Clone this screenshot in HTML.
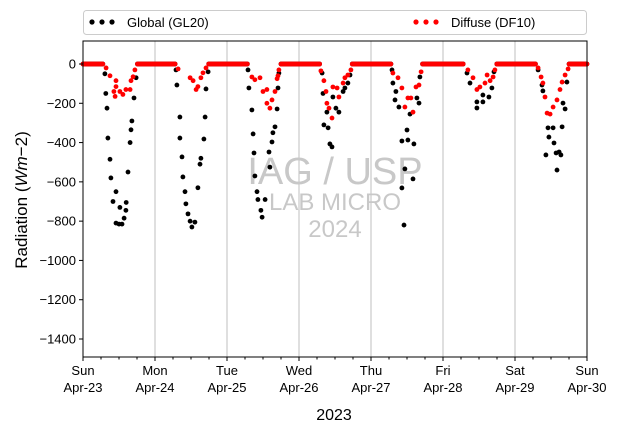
<!DOCTYPE html>
<html><head><meta charset="utf-8"><style>
html,body{margin:0;padding:0;background:#fff;}
svg{display:block;font-family:"Liberation Sans","DejaVu Sans",sans-serif;}
</style></head><body>
<svg id="chart" width="620" height="434" viewBox="0 0 620 434">
<g id="grid"></g>
<g fill="#c8c8c8" text-anchor="middle">
<text x="335" y="184" font-size="38">IAG / USP</text>
<text x="335" y="210" font-size="24">LAB MICRO</text>
<text x="335" y="237" font-size="24">2024</text>
</g>
<g id="marks"></g>
<rect x="83" y="41" width="504" height="316" fill="none" stroke="#000" stroke-width="1"/>
<g id="axes"></g>
<text x="334" y="420" font-size="16" text-anchor="middle">2023</text>
<text transform="translate(27,200) rotate(-90)" font-size="17" text-anchor="middle">Radiation (<tspan font-style="italic">Wm</tspan>−2)</text>
<g>
<rect x="83.5" y="10.5" width="503" height="24" rx="3" fill="#fff" stroke="#ccc"/>
<g>
<circle cx="92" cy="22" r="2.6" fill="#000"/><circle cx="102" cy="22" r="2.6" fill="#000"/><circle cx="112" cy="22" r="2.6" fill="#000"/>
<text x="127" y="27" font-size="13">Global (GL20)</text></g>
<g>
<circle cx="416" cy="22" r="2.6" fill="#f00"/><circle cx="426" cy="22" r="2.6" fill="#f00"/><circle cx="436" cy="22" r="2.6" fill="#f00"/>
<text x="451" y="27" font-size="13">Diffuse (DF10)</text></g>
</g>
</svg>
<script>
const dayLabels=["Sun","Mon","Tue","Wed","Thu","Fri","Sat","Sun"];
const dateLabels=["Apr-23","Apr-24","Apr-25","Apr-26","Apr-27","Apr-28","Apr-29","Apr-30"];
const yTicks=[0,-200,-400,-600,-800,-1000,-1200,-1400];
const sunrise=[6.9,30.9,54.9,78.9,102.9,126.9,150.9];
const sunset=[17.9,41.9,65.7,89.6,113,137.7,161.9];
const globalT=[7.3,7.6,8,8.3,9,9.3,10,11,11,12,13,12.3,13.7,14.3,14.4,15,15.7,16,16.3,17,17.7,
31,31.3,32.3,32.3,33,33.3,34,34.3,35,35.7,36.3,37.3,38.3,39,39.3,40.3,40.7,41,41.7,
55,55.3,56.3,56.7,57,57.3,58,58.3,60.7,59.3,59.7,62.3,62,63,63.3,64,64.7,65,65.3,
79.7,80,80.3,81.7,82.3,83,81.3,83.3,84.3,85.3,86.7,87.3,88.3,89,
103,103.3,104.3,104,105.3,109,108,106.3,108.3,110.3,107.3,110,106.3,107,111.3,112,112.3,
128,129,131.3,131.3,133.3,133.3,135.3,136.3,137,
151.7,153,153.3,155,155.3,154.3,156.7,157,157.7,158.7,159.3,158,159.7,160,160.7,161.3];
const globalV=[-50,-150,-225,-377,-485,-580,-700,-650,-810,-815,-815,-730,-785,-745,-705,-550,-400,-335,-290,-173,-70,
-30,-107,-270,-377,-473,-575,-650,-712,-763,-800,-830,-805,-630,-510,-480,-382,-270,-127,-40,
-30,-122,-234,-356,-453,-570,-650,-690,-690,-745,-780,-525,-448,-397,-350,-320,-229,-122,-46,
-46,-150,-310,-325,-407,-422,-245,-168,-225,-245,-140,-122,-97,-56,
-30,-97,-140,-183,-219,-255,-336,-392,-387,-407,-534,-585,-631,-820,-173,-199,-66,
-46,-97,-193,-224,-193,-158,-168,-122,-40,
-30,-107,-137,-325,-372,-463,-325,-402,-453,-448,-463,-540,-320,-199,-229,-92];
const diffuseT=[7.7,9,11,11,10.3,10.7,12.3,13.3,14.3,15.7,16,16.7,17.3,
31.7,35.7,36.7,37.7,38.3,39.3,40,41,
56.3,57.3,59,60,61.3,61.3,62.3,63,64,64.7,65,65.3,
79.3,80.3,81,81.3,82,83,83.3,84.7,85.3,86.7,87.3,88.3,89.3,
103.3,105,106.3,107.3,108.3,109.3,110,111,112,112.7,
128.3,130,131.3,132.3,134,134.7,135.7,136.7,137.3,
151.7,152.7,153.3,154,154.7,155.7,156.7,158,159,159.7,160.7,161.7];
const diffuseV=[-20,-60,-85,-115,-140,-165,-140,-155,-130,-130,-85,-65,-30,
-25,-70,-85,-130,-115,-70,-45,-20,
-66,-80,-70,-140,-130,-200,-225,-183,-140,-75,-60,-30,
-35,-85,-140,-200,-225,-275,-117,-122,-168,-97,-70,-56,-30,
-46,-70,-122,-219,-173,-173,-245,-117,-107,-40,
-30,-70,-130,-117,-97,-56,-85,-66,-30,
-20,-66,-97,-168,-250,-255,-219,-183,-130,-92,-56,-25];

const X0=83,X1=587,Y0=64,PXU=(339-64)/1400;
const xs=h=>X0+(h/168)*(X1-X0);
const ys=v=>Y0-v*PXU;
const NS="http://www.w3.org/2000/svg";
function mk(tag,attrs,parent){const e=document.createElementNS(NS,tag);for(const k in attrs)e.setAttribute(k,attrs[k]);parent.appendChild(e);return e;}
const grid=document.getElementById('grid'),axes=document.getElementById('axes'),marks=document.getElementById('marks');
for(let d=1;d<7;d++){const g=mk('line',{x1:xs(d*24),x2:xs(d*24),y1:41,y2:357,stroke:'#bfbfbf','stroke-width':1},grid);

}
for(let h=0;h<=168;h+=6){const major=h%24===0;const t=mk('line',{x1:xs(h),x2:xs(h),y1:357,y2:357+(major?4:2.5),stroke:'#000'},axes);

}
dayLabels.forEach((lab,i)=>{const t=mk('text',{x:xs(i*24),y:375,'font-size':13,'text-anchor':'middle'},axes);t.textContent=lab;


const t2=mk('text',{x:xs(i*24),y:392,'font-size':13,'text-anchor':'middle'},axes);t2.textContent=dateLabels[i];

});
yTicks.forEach(v=>{const l=mk('line',{x1:79,x2:83,y1:ys(v),y2:ys(v),stroke:'#000'},axes);


const t=mk('text',{x:76,y:ys(v)+4.5,'font-size':13,'text-anchor':'end'},axes);t.textContent=v===0?'0':'−'+Math.abs(v);

});
function nightZeros(){const out=[];for(let h=0;h<=168;h+=0.33){let day=false;for(let d=0;d<7;d++){if(h>sunrise[d]&&h<sunset[d])day=true;}if(!day)out.push(h);}return out;}
const zeros=nightZeros();
function plot(T,V,color,name){zeros.forEach(h=>{const c=mk('circle',{cx:xs(h),cy:ys(0),r:2.4,fill:color},marks);

});
T.forEach((h,i)=>{const c=mk('circle',{cx:xs(h),cy:ys(V[i]),r:2.4,fill:color},marks);

});}
plot(globalT,globalV,'#000','global');
plot(diffuseT,diffuseV,'#f00','diffuse');
</script>
</body></html>
